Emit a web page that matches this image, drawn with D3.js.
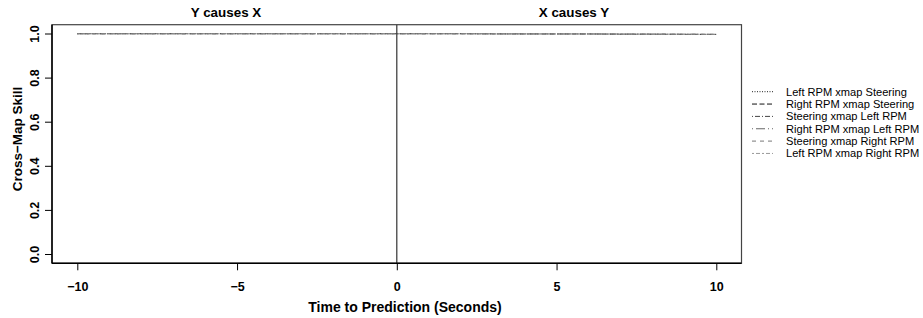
<!DOCTYPE html>
<html><head><meta charset="utf-8">
<script src="https://cdn.jsdelivr.net/npm/d3@7"></script>
<style>body{margin:0;background:#fff}svg{display:block}text{font-family:"Liberation Sans",Arial,sans-serif}</style>
</head><body>
<svg id="c" width="923" height="318"></svg>
<script>
const times = [-10,-9,-8,-7,-6,-5,-4,-3,-2,-1,0,1,2,3,4,5,6,7,8,9,10];
const leftSteer  = [0.999,0.999,0.999,0.999,0.999,0.999,0.999,0.999,0.999,0.999,0.999,0.999,0.999,0.998,0.998,0.998,0.998,0.997,0.997,0.996,0.996];
const rightSteer = [0.999,0.999,0.999,0.999,0.999,0.999,0.999,0.999,0.999,0.999,0.999,0.999,0.999,0.998,0.998,0.998,0.998,0.997,0.997,0.996,0.996];
const steerLeft  = [0.999,0.999,0.999,0.999,0.999,0.999,0.999,0.999,0.999,0.999,0.999,0.999,0.999,0.999,0.998,0.998,0.998,0.997,0.997,0.997,0.996];
const rightLeft  = [0.999,0.999,0.999,0.999,0.999,0.999,0.999,0.999,0.999,0.999,0.999,0.999,0.999,0.999,0.999,0.998,0.998,0.998,0.997,0.997,0.996];
const steerRight = [0.999,0.999,0.999,0.999,0.999,0.999,0.999,0.999,0.999,0.999,0.999,0.999,0.999,0.998,0.998,0.998,0.998,0.997,0.997,0.996,0.996];
const leftRight  = [0.999,0.999,0.999,0.999,0.999,0.999,0.999,0.999,0.999,0.999,0.999,0.999,0.999,0.999,0.998,0.998,0.998,0.998,0.997,0.997,0.996];
const seriesNames = ["Left RPM xmap Steering","Right RPM xmap Steering","Steering xmap Left RPM","Right RPM xmap Left RPM","Steering xmap Right RPM","Left RPM xmap Right RPM"];
const seriesValues = [leftSteer,rightSteer,steerLeft,rightLeft,steerRight,leftRight];
const seriesDash = ["1,1.5","5,2.5","1,2,5,2","1,3,9,3","4,4","2,2,4,2"];
const seriesColor = ["#222","#111","#444","#666","#777","#999"];
const xTicks = [-10,-5,0,5,10];
const yTicks = [0,0.2,0.4,0.6,0.8,1.0];
const panelTitles = ["Y causes X","X causes Y"];

const svg = d3.select("#c");
const x = d3.scaleLinear().domain([-10,10]).range([77.3,716.3]);
const y = d3.scaleLinear().domain([0,1]).range([254,33.5]);
const box = {l:52,r:741.5,t:24.7,b:263.3};

const line = d3.line().x((d,i)=>x(times[i])).y(d=>y(d));
seriesValues.forEach((vals,k)=>{
  svg.append("path").attr("d",line(vals)).attr("fill","none")
    .attr("stroke",seriesColor[k]).attr("stroke-width",0.8)
    .attr("stroke-dasharray",seriesDash[k]).attr("opacity",0.8);
});

svg.append("line").attr("x1",x(0)).attr("x2",x(0)).attr("y1",box.t).attr("y2",box.b)
  .attr("stroke","#333").attr("stroke-width",1.2);

svg.append("rect").attr("x",box.l).attr("y",box.t).attr("width",box.r-box.l).attr("height",box.b-box.t)
  .attr("fill","none").attr("stroke","#444").attr("stroke-width",1.2);

const xAxis = svg.append("g").attr("transform",`translate(0,${box.b})`)
  .call(d3.axisBottom(x).tickValues(xTicks).tickSize(7).tickPadding(12).tickFormat(d=>d<0?"\u2212"+Math.abs(d):d));
xAxis.select(".domain").attr("d",`M${box.l},0H${box.r}`).attr("stroke","#000").attr("stroke-width",1.5);
xAxis.selectAll("text").attr("font-size",12.5).attr("font-weight","bold").attr("fill","#000")
  .attr("font-family","Liberation Sans, Arial, sans-serif");
xAxis.selectAll(".tick line").attr("stroke","#000");

const yAxis = svg.append("g").attr("transform",`translate(${box.l},0)`)
  .call(d3.axisLeft(y).tickValues(yTicks).tickSize(7).tickFormat(d3.format(".1f")));
yAxis.select(".domain").attr("d",`M0,${box.t}V${box.b}`).attr("stroke","#000").attr("stroke-width",1.5);
yAxis.selectAll(".tick line").attr("stroke","#000");
yAxis.selectAll(".tick text").attr("font-size",12.5).attr("font-weight","bold").attr("fill","#000")
  .attr("font-family","Liberation Sans, Arial, sans-serif")
  .attr("transform","translate(-17,0) rotate(-90)").attr("x",0).attr("y",0)
  .attr("dy","0.35em").attr("text-anchor","middle");

svg.append("text").attr("x",226).attr("y",17).attr("text-anchor","middle").attr("font-size",13.4)
  .attr("font-weight","bold").text(panelTitles[0]);
svg.append("text").attr("x",574).attr("y",17).attr("text-anchor","middle").attr("font-size",13.4)
  .attr("font-weight","bold").text(panelTitles[1]);

svg.append("text").attr("x",405).attr("y",312).attr("text-anchor","middle").attr("font-size",14)
  .attr("font-weight","bold").text("Time to Prediction (Seconds)");
svg.append("text").attr("transform","translate(22,139) rotate(-90)").attr("text-anchor","middle")
  .attr("font-size",13.5).attr("font-weight","bold").text("Cross\u2212Map Skill");

const lg = svg.append("g");
seriesNames.forEach((n,k)=>{
  const yy = 91.7 + k*12.35;
  lg.append("line").attr("x1",752).attr("x2",773).attr("y1",yy).attr("y2",yy)
    .attr("stroke",seriesColor[k]).attr("stroke-width",1).attr("stroke-dasharray",seriesDash[k]);
  lg.append("text").attr("x",786).attr("y",yy).attr("dy","0.35em").attr("font-size",11.1).attr("fill","#000").text(n);
});
</script>
</body></html>
